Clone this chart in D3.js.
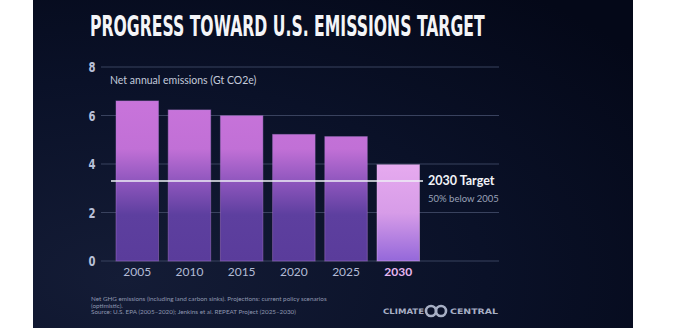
<!DOCTYPE html>
<html>
<head>
<meta charset="utf-8">
<script src="https://cdn.jsdelivr.net/npm/d3@7"></script>
<style>
  html, body { margin: 0; padding: 0; background: #fff; }
  svg { display: block; }
</style>
</head>
<body>
<div id="chart"></div>
<script>
// net annual emissions, Gt CO2e
var years = ["2005", "2010", "2015", "2020", "2025", "2030"];
var emissions = [6.6, 6.23, 5.99, 5.22, 5.13, 3.97];
var yTicks = [0, 2, 4, 6, 8];
var targetValue = 3.3;

var W = 673, H = 328;
var panel = { x: 33, w: 600 };

var svg = d3.select("#chart").append("svg")
  .attr("width", W)
  .attr("height", H);

var defs = svg.append("defs");

// background gradient
var bg = defs.append("radialGradient")
  .attr("id", "bg")
  .attr("cx", "0.15").attr("cy", "0.85").attr("r", "1.1");
bg.append("stop").attr("offset", "0").attr("stop-color", "#141c36");
bg.append("stop").attr("offset", "0.55").attr("stop-color", "#0a1128");
bg.append("stop").attr("offset", "1").attr("stop-color", "#040818");

svg.append("rect")
  .attr("x", panel.x).attr("y", 0)
  .attr("width", panel.w).attr("height", H)
  .attr("fill", "url(#bg)");

// title, squeezed horizontally to fit its slot
var title = svg.append("text")
  .attr("x", 0).attr("y", 0)
  .style("font-family", "'DejaVu Sans Condensed', 'DejaVu Sans'")
  .style("font-weight", "bold")
  .style("font-size", "28px")
  .style("fill", "#f4f5f8")
  .text("PROGRESS TOWARD U.S. EMISSIONS TARGET");
var tw = title.node().getComputedTextLength();
title.attr("transform", "translate(90,36) scale(" + (395 / tw) + ",1)");

var x = d3.scaleBand()
  .domain(years)
  .range([116, 419.5])
  .paddingInner(0.186)
  .paddingOuter(0);

var y = d3.scaleLinear()
  .domain([0, 8])
  .range([261, 67]);

// gridlines + y labels
var grid = svg.append("g");
grid.selectAll("line")
  .data(yTicks)
  .enter()
  .append("line")
  .attr("x1", 101).attr("x2", 499)
  .attr("y1", function (d) { return y(d); })
  .attr("y2", function (d) { return y(d); })
  .attr("stroke", "#39425e")
  .attr("stroke-width", 1.2);

grid.selectAll("text")
  .data(yTicks)
  .enter()
  .append("text")
  .attr("text-anchor", "middle")
  .attr("transform", function (d) { return "translate(92," + (y(d) + 5) + ") scale(0.8,1)"; })
  .style("font-family", "'DejaVu Sans Condensed', 'DejaVu Sans'")
  .style("font-weight", "bold")
  .style("font-size", "14px")
  .style("fill", "#b8c0d8")
  .text(function (d) { return d; });

svg.append("text")
  .attr("x", 110).attr("y", 84)
  .style("font-family", "Lato, 'Noto Sans', sans-serif")
  .style("font-size", "10.5px")
  .style("fill", "#c3cadb")
  .text("Net annual emissions (Gt CO2e)");

// bar gradients
var gBar = defs.append("linearGradient")
  .attr("id", "barGrad")
  .attr("gradientUnits", "userSpaceOnUse")
  .attr("x1", 0).attr("x2", 0)
  .attr("y1", y(6.8)).attr("y2", y(0));
gBar.append("stop").attr("offset", "0").attr("stop-color", "#c974db");
gBar.append("stop").attr("offset", "0.32").attr("stop-color", "#c170d6");
gBar.append("stop").attr("offset", "0.52").attr("stop-color", "#8e56bd");
gBar.append("stop").attr("offset", "0.72").attr("stop-color", "#5d3f9f");
gBar.append("stop").attr("offset", "1").attr("stop-color", "#5a3c9b");

var gTarget = defs.append("linearGradient")
  .attr("id", "targetGrad")
  .attr("x1", 0).attr("x2", 0).attr("y1", 0).attr("y2", 1);
gTarget.append("stop").attr("offset", "0").attr("stop-color", "#e6aaef");
gTarget.append("stop").attr("offset", "0.5").attr("stop-color", "#d79ce8");
gTarget.append("stop").attr("offset", "1").attr("stop-color", "#9468da");

svg.append("g")
  .selectAll("rect")
  .data(emissions)
  .enter()
  .append("rect")
  .attr("x", function (d, i) { return x(years[i]); })
  .attr("y", function (d) { return y(d); })
  .attr("width", x.bandwidth())
  .attr("height", function (d) { return y(0) - y(d); })
  .attr("fill", function (d, i) { return i === years.length - 1 ? "url(#targetGrad)" : "url(#barGrad)"; })
  .attr("stroke", function (d, i) { return i === years.length - 1 ? "#e9b8f2" : "#b07ad0"; })
  .attr("stroke-opacity", 0.45)
  .attr("stroke-width", 1);

// x labels
svg.append("g")
  .selectAll("text")
  .data(years)
  .enter()
  .append("text")
  .attr("x", function (d) { return x(d) + x.bandwidth() / 2; })
  .attr("y", 276)
  .attr("text-anchor", "middle")
  .style("font-family", "Lato, 'Noto Sans', sans-serif")
  .style("font-size", "12px")
  .style("font-weight", function (d, i) { return i === years.length - 1 ? "bold" : "normal"; })
  .style("fill", function (d, i) { return i === years.length - 1 ? "#e6b6f0" : "#b3bbd6"; })
  .text(function (d) { return d; });

// 2030 target line
var ty = y(targetValue);
svg.append("line")
  .attr("x1", 111).attr("x2", 423)
  .attr("y1", ty).attr("y2", ty)
  .attr("stroke", "#eef0f6")
  .attr("stroke-width", 1.6);

svg.append("text")
  .attr("x", 428).attr("y", ty + 4.5)
  .style("font-family", "Lato, 'Noto Sans', sans-serif")
  .style("font-weight", "bold")
  .style("font-size", "12.5px")
  .style("fill", "#f2f3f7")
  .text("2030 Target");

svg.append("text")
  .attr("x", 428).attr("y", ty + 21)
  .style("font-family", "Lato, 'Noto Sans', sans-serif")
  .style("font-size", "9.5px")
  .style("fill", "#9aa2b8")
  .text("50% below 2005");

// source note
var note = [
  "Net GHG emissions (including land carbon sinks). Projections: current policy scenarios",
  "(optimistic).",
  "Source: U.S. EPA (2005\u20132020); Jenkins et al. REPEAT Project (2025\u20132030)"
];
svg.append("g")
  .selectAll("text")
  .data(note)
  .enter()
  .append("text")
  .attr("x", 91)
  .attr("y", function (d, i) { return 301 + i * 6.6; })
  .style("font-family", "Lato, 'Noto Sans', sans-serif")
  .style("font-size", "6.3px")
  .style("fill", "#8f97b0")
  .text(function (d) { return d; });

// logo
var logo = svg.append("g").style("fill", "#a7afc4");
logo.append("text")
  .attr("x", 383).attr("y", 314)
  .attr("textLength", 41)
  .attr("lengthAdjust", "spacingAndGlyphs")
  .style("font-family", "'DejaVu Sans'")
  .style("font-weight", "bold")
  .style("font-size", "7.5px")
  .text("CLIMATE");
logo.append("circle").attr("cx", 431).attr("cy", 311).attr("r", 5)
  .attr("fill", "none").attr("stroke", "#a7afc4").attr("stroke-width", 2.6);
logo.append("circle").attr("cx", 441).attr("cy", 311).attr("r", 5)
  .attr("fill", "none").attr("stroke", "#a7afc4").attr("stroke-width", 2.6);
logo.append("text")
  .attr("x", 450).attr("y", 314)
  .attr("textLength", 48)
  .attr("lengthAdjust", "spacingAndGlyphs")
  .style("font-family", "'DejaVu Sans'")
  .style("font-weight", "bold")
  .style("font-size", "7.5px")
  .text("CENTRAL");
</script>
</body>
</html>
